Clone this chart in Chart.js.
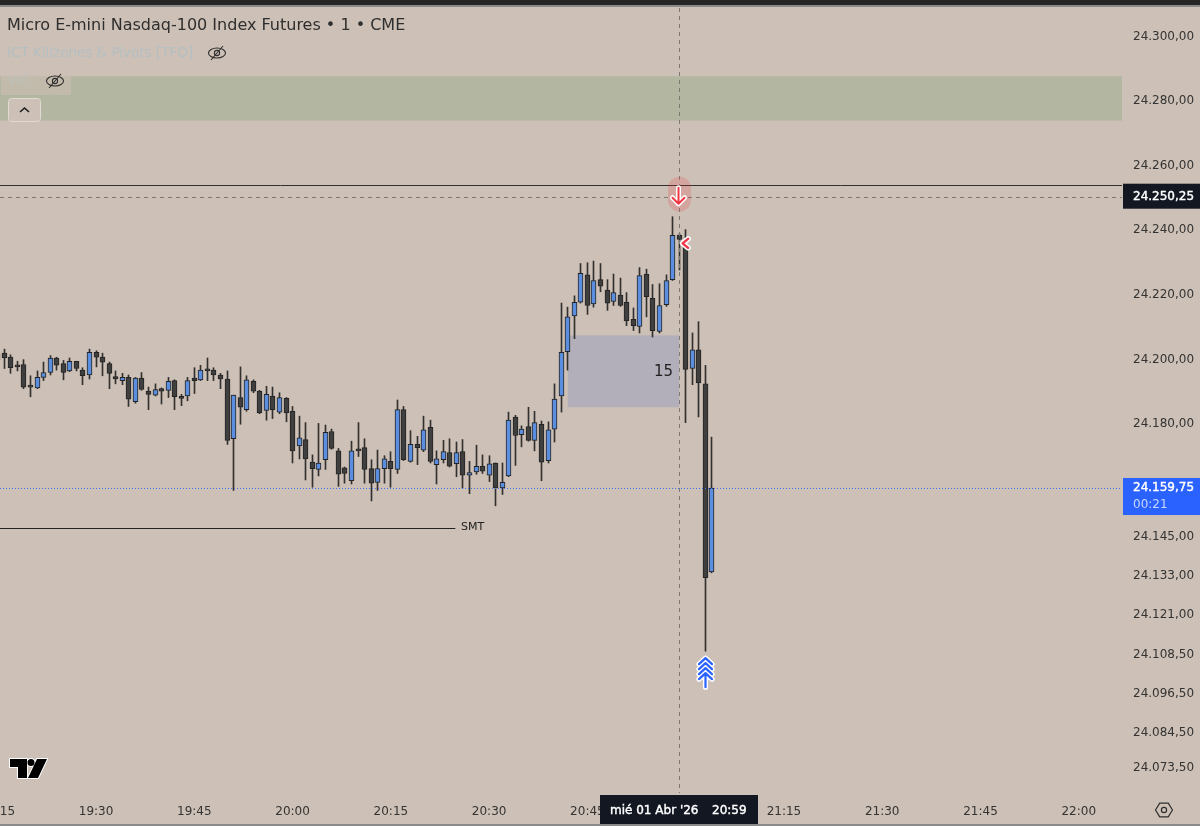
<!DOCTYPE html>
<html>
<head>
<meta charset="utf-8">
<title>Micro E-mini Nasdaq-100 Index Futures</title>
<script src="https://cdn.jsdelivr.net/npm/chart.js@4"></script>
<style>
  html, body { margin: 0; padding: 0; background: #cdc0b6; overflow: hidden; }
  #wrap { position: relative; width: 1200px; height: 826px; overflow: hidden; }
  canvas { position: absolute; left: 0; top: 0; }
  .strip { position: absolute; left: 0; width: 1200px; }
</style>
</head>
<body>
<div id="wrap">
  <canvas id="chart" width="1200" height="826"></canvas>
  <div class="strip" style="top:0;height:5px;background:#262626"></div>
  <div class="strip" style="top:5px;height:2px;background:#8c8a88"></div>
  <div class="strip" style="top:824px;height:2px;background:#8c8a88"></div>
</div>
<script>
// === Velas de 1 minuto ===
const times = [
  '19:15','19:16','19:17','19:18','19:19','19:20','19:21','19:22','19:23','19:24',
  '19:25','19:26','19:27','19:28','19:29','19:30','19:31','19:32','19:33','19:34',
  '19:35','19:36','19:37','19:38','19:39','19:40','19:41','19:42','19:43','19:44',
  '19:45','19:46','19:47','19:48','19:49','19:50','19:51','19:52','19:53','19:54',
  '19:55','19:56','19:57','19:58','19:59','20:00','20:01','20:02','20:03','20:04',
  '20:05','20:06','20:07','20:08','20:09','20:10','20:11','20:12','20:13','20:14',
  '20:15','20:16','20:17','20:18','20:19','20:20','20:21','20:22','20:23','20:24',
  '20:25','20:26','20:27','20:28','20:29','20:30','20:31','20:32','20:33','20:34',
  '20:35','20:36','20:37','20:38','20:39','20:40','20:41','20:42','20:43','20:44',
  '20:45','20:46','20:47','20:48','20:49','20:50','20:51','20:52','20:53','20:54',
  '20:55','20:56','20:57','20:58','20:59','21:00','21:01','21:02','21:03','21:04'
];
const opens = [
  24201.25,24201.5,24200.25,24197.5,24198,24191.25,24190.75,24194,24195.5,24200,
  24198.25,24196,24199,24196.25,24194.75,24201.75,24200.25,24198.25,24194.25,24193,
  24194,24186.5,24193.75,24189.75,24188.5,24190.5,24190,24193,24187.75,24188.25,
  24193.75,24193.25,24196.25,24196.25,24194.75,24193.5,24175,24187.75,24184,24192.75,
  24189.75,24183.75,24188.25,24183.25,24187.5,24183.5,24172.75,24174.75,24167.75,24165.5,
  24168.5,24177.25,24171.25,24166,24162,24171.5,24172.25,24165.75,24161.5,24165.75,
  24168,24165.5,24184,24168,24173.25,24171.5,24178.5,24167,24168.5,24170.75,
  24167.25,24171,24163.75,24164.75,24166.5,24163.75,24167.5,24159.75,24163.5,24181.75,
  24176.25,24178.75,24174.5,24179.5,24168.25,24178,24188.25,24202,24213,24217.25,
  24225.75,24216.75,24224.25,24221,24217.5,24219.5,24217.25,24212,24209.75,24226,
  24218.5,24208.25,24216.5,24224.25,24238,24235,24196.75,24202.5,24192,24133.75
];
const highs = [
  24202.5,24202.75,24201,24199,24199.5,24194.5,24196,24198.75,24200.75,24200.25,
  24199.25,24200,24199,24197,24202.75,24202.25,24201.5,24198.75,24196,24195.25,
  24194.75,24194,24195.5,24191,24192,24190.75,24194,24193.25,24188.75,24194,
  24197,24197.75,24200,24197,24195.25,24196,24188.5,24197.25,24194.5,24193.25,
  24190,24191.25,24191,24189.25,24187.75,24185,24182,24180,24170,24179.75,
  24179.25,24178,24172,24166.25,24174.25,24180,24175,24168.5,24171.5,24169.75,
  24171,24187,24185,24177.5,24175.75,24182,24180.75,24171.25,24174.5,24175,
  24174,24174.75,24168,24173,24170,24169.75,24167.5,24167.5,24183.25,24182.25,
  24179,24184.75,24183.5,24180.5,24180.25,24192,24217,24215.75,24219.25,24229.25,
  24229.5,24230,24229.25,24224.25,24226,24224.75,24220.25,24215.5,24228,24227.5,
  24222.75,24223,24225.75,24243.75,24238.5,24239.75,24207.75,24211.25,24197.75,24175.5
];
const lows = [
  24198.25,24196.75,24195.25,24196,24190.5,24188,24190.5,24193,24194.75,24196.25,
  24193.25,24195.75,24196,24191.75,24193.5,24197.25,24194.5,24190.5,24192,24191.75,
  24185,24186,24190,24184,24188.25,24185.75,24187.75,24184,24185.25,24186.75,
  24189,24193,24193,24193,24190.5,24173.25,24159,24179.5,24183.5,24189.25,
  24182.75,24180.75,24181.25,24182.75,24180.25,24167.5,24168.75,24162.25,24160,24163.5,
  24165.5,24171.75,24160.25,24161.25,24161,24169.5,24161.25,24155.75,24159,24161.25,
  24160,24164.25,24168.25,24167.75,24167,24171,24167.5,24161,24167.5,24166.25,
  24163.25,24159.75,24158,24164,24164.25,24161.75,24154.25,24157.75,24163.25,24166.75,
  24172.5,24174.25,24171.25,24162,24167.5,24174,24183.25,24196.25,24206,24217,
  24213.5,24215.75,24220.5,24214.75,24216.25,24216,24210,24208.5,24207.75,24212.75,
  24206.5,24207.75,24216,24224,24227.25,24180,24191.75,24181.75,24109.25,24133.5
];
const closes = [
  24199.5,24200,24197,24197.25,24191,24191,24194,24195.5,24200,24197.75,
  24195.5,24199,24196.75,24194.5,24201.75,24200.25,24198.75,24195.25,24193.5,24194,
  24187.25,24193.75,24190.25,24188.75,24190.25,24189.75,24192.75,24188,24187.5,24193,
  24193,24196.25,24196,24194.75,24193.5,24174.5,24188.5,24184.75,24193.25,24189.75,
  24183,24188.75,24184,24187.75,24183,24171.25,24175.25,24168.75,24165.75,24167.5,
  24177,24172,24164,24164.25,24171.25,24171.25,24165.5,24161.25,24165.75,24168.75,
  24165.75,24184,24168.5,24173.25,24172.25,24177.75,24168,24168.75,24171,24166.5,
  24170.75,24163.75,24164.5,24166.5,24165,24167.25,24159.75,24161.5,24180.75,24176,
  24178,24174.5,24180,24167.75,24177.75,24187.25,24201.75,24212.75,24217.25,24226.25,
  24216.25,24224,24222.25,24217,24220.25,24216.25,24211.5,24210,24225.5,24219,
  24208.5,24216.25,24224,24238,24236.75,24196.5,24202.5,24192.25,24132,24159.75
];

// Marcas de los ejes
const timeTicks = ['19:15','19:30','19:45','20:00','20:15','20:30','20:45','21:00','21:15','21:30','21:45','22:00'];
const priceTicks = [24300,24280,24260,24240,24220,24200,24180,24145,24133,24121,24108.5,24096.5,24084.5,24073.5];

// Niveles y zonas dibujados encima
const crossPrice = 24250.25;
const crossTime = '20:59';
const lastPrice = 24159.75;
const countdown = '00:21';
const resistanceLevel = 24253.5;
const smtLevel = 24147.5;
const smtEnd = '20:25';
const greenZone = [24273.5, 24287.25];
const fvgZone = [24184.75, 24207];
const fvgTimes = ['20:42', '20:59'];
const fvgLabel = '15';

const FONT = '"DejaVu Sans", sans-serif';
const BLUE = '#5b8ede';
const DARK = '#3f3f3f';
const EDGE = '#232323';

function toMinutes(t) {
    const parts = t.split(':');
    return Number(parts[0]) * 60 + Number(parts[1]);
}

function formatPrice(p) {
    return p.toFixed(2).replace('.', ',').replace(/^(\d+)(\d{3}),/, '$1.$2,');
}

function outlined(ctx, draw, color, width) {
    ctx.save();
    ctx.lineCap = 'round';
    ctx.lineJoin = 'round';
    ctx.beginPath();
    draw();
    ctx.strokeStyle = '#ffffff';
    ctx.lineWidth = width + 3;
    ctx.stroke();
    ctx.strokeStyle = color;
    ctx.lineWidth = width;
    ctx.stroke();
    ctx.restore();
}

function eyeOff(ctx, cx, cy) {
    ctx.save();
    ctx.strokeStyle = '#2e2e2e';
    ctx.lineWidth = 1.1;
    ctx.beginPath();
    ctx.ellipse(cx, cy, 8.5, 5, 0, 0, Math.PI * 2);
    ctx.stroke();
    ctx.beginPath();
    ctx.arc(cx, cy, 2.6, 0, Math.PI * 2);
    ctx.stroke();
    ctx.beginPath();
    ctx.moveTo(cx - 6, cy + 7);
    ctx.lineTo(cx + 6, cy - 7);
    ctx.stroke();
    ctx.restore();
}

function hLine(ctx, y, x0, x1, color, dash) {
    ctx.save();
    ctx.strokeStyle = color;
    ctx.lineWidth = 1;
    ctx.setLineDash(dash || []);
    ctx.beginPath();
    ctx.moveTo(x0, Math.round(y) + 0.5);
    ctx.lineTo(x1, Math.round(y) + 0.5);
    ctx.stroke();
    ctx.restore();
}

function boldText(ctx, text, x, y) {
    ctx.lineWidth = 0.4;
    ctx.strokeStyle = ctx.fillStyle;
    ctx.strokeText(text, x, y);
    ctx.fillText(text, x, y);
}

// Zonas por debajo de las velas
const zonesPlugin = {
    id: 'zones',
    beforeDatasetsDraw(chart) {
        const { ctx, chartArea, scales: { x, y } } = chart;

        // velas alineadas a pixel entero, como en el original
        chart.data.datasets.forEach((ds, i) => {
            chart.getDatasetMeta(i).data.forEach(bar => { bar.x = Math.floor(bar.x) + 0.5; });
        });

        ctx.save();
        ctx.fillStyle = '#b3b6a0';
        const gTop = y.getPixelForValue(greenZone[1]);
        ctx.fillRect(chartArea.left, gTop, chartArea.width, y.getPixelForValue(greenZone[0]) - gTop);

        ctx.fillStyle = '#b2afba';
        const fLeft = x.getPixelForValue(toMinutes(fvgTimes[0]));
        const fRight = x.getPixelForValue(toMinutes(fvgTimes[1]));
        const fTop = y.getPixelForValue(fvgZone[1]);
        ctx.fillRect(fLeft, fTop, fRight - fLeft, y.getPixelForValue(fvgZone[0]) - fTop);

        hLine(ctx, y.getPixelForValue(resistanceLevel), chartArea.left, chartArea.right, '#30302f');
        ctx.restore();
    }
};

// Textos, lineas y marcadores por encima de las velas
const overlayPlugin = {
    id: 'overlay',
    afterDraw(chart) {
        const { ctx, chartArea, scales: { x, y } } = chart;
        const crossX = Math.round(x.getPixelForValue(toMinutes(crossTime))) + 0.5;
        const crossY = y.getPixelForValue(crossPrice) + 1;
        const lastY = y.getPixelForValue(lastPrice);

        // FVG label
        ctx.save();
        ctx.fillStyle = '#1f1f1f';
        ctx.font = '15px ' + FONT;
        ctx.textAlign = 'right';
        ctx.textBaseline = 'middle';
        ctx.fillText(fvgLabel, x.getPixelForValue(toMinutes(fvgTimes[1])) - 6, y.getPixelForValue((fvgZone[0] + fvgZone[1]) / 2) + 1);
        ctx.restore();

        // SMT
        const smtY = y.getPixelForValue(smtLevel);
        hLine(ctx, smtY, chartArea.left, x.getPixelForValue(toMinutes(smtEnd)) - 1, '#222222');
        ctx.save();
        ctx.fillStyle = '#222222';
        ctx.font = '11px ' + FONT;
        ctx.textBaseline = 'middle';
        ctx.fillText('SMT', 461, smtY);
        ctx.restore();

        // Ultimo precio
        hLine(ctx, lastY, chartArea.left, chartArea.right, '#3f6ee8', [1, 2]);

        // Cruz del cursor
        hLine(ctx, crossY, chartArea.left, chartArea.right, '#7c7874', [4, 4]);
        ctx.save();
        ctx.strokeStyle = '#7c7874';
        ctx.setLineDash([4, 4]);
        ctx.beginPath();
        ctx.moveTo(crossX, chartArea.top);
        ctx.lineTo(crossX, chartArea.bottom);
        ctx.stroke();
        ctx.restore();

        // Marcador rojo bajista
        ctx.save();
        ctx.fillStyle = 'rgba(242, 54, 69, 0.2)';
        ctx.beginPath();
        ctx.roundRect(crossX - 11.5, crossY - 20, 23, 35, 11.5);
        ctx.fill();
        ctx.restore();
        outlined(ctx, () => {
            ctx.moveTo(crossX - 1, crossY - 9);
            ctx.lineTo(crossX - 1, crossY + 7);
            ctx.moveTo(crossX - 7, crossY + 1);
            ctx.lineTo(crossX - 1, crossY + 7);
            ctx.lineTo(crossX + 5, crossY + 1);
        }, '#f23645', 2);

        const crossIdx = times.indexOf(crossTime);
        const chevX = x.getPixelForValue(toMinutes(crossTime)) + 2;
        const chevY = y.getPixelForValue(closes[crossIdx]) + 4;
        outlined(ctx, () => {
            ctx.moveTo(chevX + 7, chevY - 4.5);
            ctx.lineTo(chevX + 1.5, chevY);
            ctx.lineTo(chevX + 7, chevY + 4.5);
        }, '#f23645', 2.4);

        // Flecha azul alcista, bajo el minimo de la vela de las 21:03
        const upIdx = times.indexOf('21:03');
        const upX = Math.round(x.getPixelForValue(toMinutes('21:03'))) + 0.5;
        const upY = y.getPixelForValue(lows[upIdx]) + 7;
        outlined(ctx, () => {
            for (let i = 0; i < 4; i++) {
                const ay = upY + i * 5;
                ctx.moveTo(upX - 6.5, ay + 6);
                ctx.lineTo(upX, ay);
                ctx.lineTo(upX + 6.5, ay + 6);
            }
            ctx.moveTo(upX, upY + 15);
            ctx.lineTo(upX, upY + 29);
        }, '#2962ff', 2.2);

        // Etiquetas de precio
        ctx.save();
        ctx.textBaseline = 'middle';
        ctx.textAlign = 'left';
        ctx.fillStyle = '#131722';
        ctx.fillRect(1123, crossY - 13, 77, 25);
        ctx.fillStyle = '#ffffff';
        ctx.font = '12px ' + FONT;
        boldText(ctx, formatPrice(crossPrice), 1133, crossY);

        ctx.fillStyle = '#2962ff';
        ctx.fillRect(1123, lastY - 10, 77, 37);
        ctx.fillStyle = '#ffffff';
        boldText(ctx, formatPrice(lastPrice), 1133, lastY);
        ctx.fillStyle = '#c9d7ff';
        ctx.fillText(countdown, 1133, lastY + 17);

        // Etiqueta de tiempo
        ctx.fillStyle = '#131722';
        ctx.fillRect(600, 795, 158, 29);
        ctx.fillStyle = '#ffffff';
        boldText(ctx, 'mié 01 Abr \'26', 610, 811);
        boldText(ctx, crossTime, 712, 811);
        ctx.restore();

        // Cabecera
        ctx.save();
        ctx.textBaseline = 'middle';
        ctx.fillStyle = '#2e2e2e';
        ctx.font = '16px ' + FONT;
        ctx.fillText('Micro E-mini Nasdaq-100 Index Futures • 1 • CME', 7, 25.5);
        ctx.fillStyle = '#b5bfc2';
        ctx.font = '13.5px ' + FONT;
        ctx.fillText('ICT Killzones & Pivots [TFO]', 7, 53);
        eyeOff(ctx, 217, 53);
        ctx.fillStyle = 'rgba(205, 192, 182, 0.55)';
        ctx.fillRect(1, 72, 70, 23);
        ctx.fillStyle = '#bdc1b8';
        ctx.fillText('Vol.', 8, 81);
        eyeOff(ctx, 55, 81);

        ctx.fillStyle = '#cdc0b6';
        ctx.strokeStyle = '#e2dbd4';
        ctx.beginPath();
        ctx.roundRect(8.5, 98.5, 32, 23, 3);
        ctx.fill();
        ctx.stroke();
        ctx.strokeStyle = '#1e1e1e';
        ctx.lineWidth = 1.6;
        ctx.beginPath();
        ctx.moveTo(20, 112);
        ctx.lineTo(24.5, 108);
        ctx.lineTo(29, 112);
        ctx.stroke();
        ctx.restore();

        // Logo
        ctx.save();
        ctx.fillStyle = '#000000';
        ctx.strokeStyle = '#ffffff';
        ctx.lineWidth = 2;
        ctx.lineJoin = 'round';
        const logo = new Path2D();
        logo.moveTo(10, 759);
        logo.lineTo(27, 759);
        logo.lineTo(27, 778);
        logo.lineTo(18, 778);
        logo.lineTo(18, 767);
        logo.lineTo(10, 767);
        logo.closePath();
        logo.moveTo(37, 759);
        logo.lineTo(47, 759);
        logo.lineTo(38, 778);
        logo.lineTo(28, 778);
        logo.closePath();
        logo.moveTo(34.5, 762.5);
        logo.arc(31, 762.5, 3.5, 0, Math.PI * 2);
        ctx.stroke(logo);
        ctx.fill(logo);
        ctx.restore();

        // Icono de ajustes
        ctx.save();
        ctx.strokeStyle = '#2e2e2e';
        ctx.lineWidth = 1.2;
        ctx.beginPath();
        for (let i = 0; i < 6; i++) {
            const a = Math.PI * i / 3;
            ctx.lineTo(1164 + 8.5 * Math.cos(a), 810 + 8 * Math.sin(a));
        }
        ctx.closePath();
        ctx.stroke();
        ctx.beginPath();
        ctx.arc(1164, 810, 2.6, 0, Math.PI * 2);
        ctx.stroke();
        ctx.restore();
    }
};

const minutes = times.map(toMinutes);
const bodyColors = closes.map((c, i) => (c >= opens[i] ? BLUE : DARK));

new Chart(document.getElementById('chart').getContext('2d'), {
    type: 'bar',
    data: {
        datasets: [{
            label: 'Cuerpo',
            data: minutes.map((m, i) => ({ x: m, y: [opens[i], closes[i]] })),
            backgroundColor: bodyColors,
            borderColor: EDGE,
            borderWidth: 1,
            borderSkipped: false,
            barThickness: 5,
            minBarLength: 2,
            grouped: false,
            order: 1
        }, {
            label: 'Mecha',
            data: minutes.map((m, i) => ({ x: m, y: [lows[i], highs[i]] })),
            backgroundColor: '#333130',
            barThickness: 1,
            grouped: false,
            order: 2
        }]
    },
    plugins: [zonesPlugin, overlayPlugin],
    options: {
        responsive: false,
        animation: false,
        layout: { autoPadding: false, padding: { top: 8, left: 0, right: 0, bottom: 0 } },
        plugins: { legend: { display: false }, tooltip: { enabled: false } },
        scales: {
            x: {
                type: 'linear',
                offset: false,
                min: 1155.34,
                max: 1326.6,
                grid: { display: false },
                border: { display: false },
                afterBuildTicks: (axis) => { axis.ticks = timeTicks.map(t => ({ value: toMinutes(t) })); },
                afterFit: (axis) => {
                    axis.height = 33;
                    axis.paddingLeft = 0;
                    axis.paddingRight = 0;
                },
                ticks: {
                    autoSkip: false,
                    maxRotation: 0,
                    padding: 4,
                    color: '#333333',
                    font: { family: FONT, size: 12 },
                    callback: (v) => {
                        const h = Math.floor(v / 60);
                        const m = v % 60;
                        return h + ':' + String(m).padStart(2, '0');
                    }
                }
            },
            y: {
                position: 'right',
                min: 24065.33,
                max: 24308.36,
                grid: { display: false, drawTicks: false },
                border: { display: false },
                afterBuildTicks: (axis) => { axis.ticks = priceTicks.map(v => ({ value: v })); },
                afterFit: (axis) => {
                    axis.width = 78;
                    axis.paddingTop = 0;
                    axis.paddingBottom = 0;
                },
                ticks: {
                    autoSkip: false,
                    padding: 11,
                    labelOffset: 1.5,
                    color: '#333333',
                    font: { family: FONT, size: 12 },
                    callback: (v) => formatPrice(v)
                }
            }
        }
    }
});
</script>
</body>
</html>
